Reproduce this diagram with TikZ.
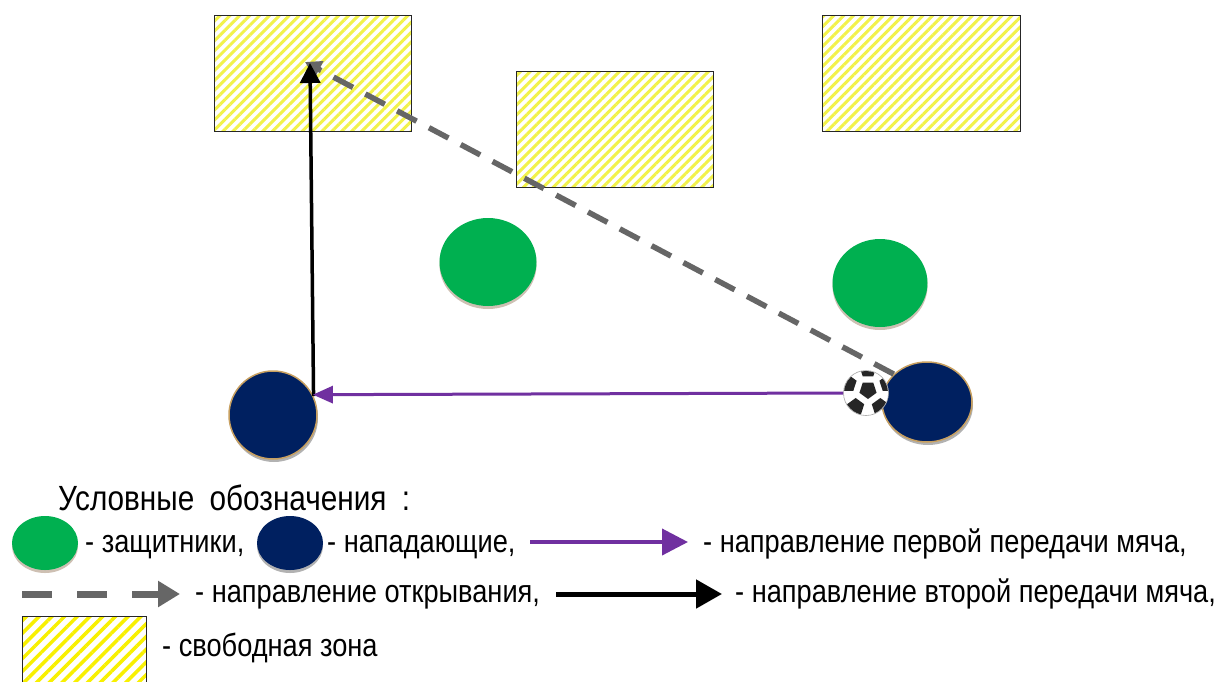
\documentclass[tikz,border=0pt]{standalone}
\usepackage{fontspec}
\setmainfont{Liberation Sans}[FakeStretch=0.85]
\usetikzlibrary{arrows.meta,patterns.meta,shadows,shapes.geometric}
\definecolor{defgreen}{HTML}{00B050}
\definecolor{attblue}{HTML}{002060}
\definecolor{passpurple}{HTML}{7030A0}
\definecolor{rungray}{HTML}{666666}
\definecolor{rimtan}{HTML}{C8A060}
\definecolor{zoneyellow}{HTML}{F2F24A}
\definecolor{legyellow}{HTML}{F8F000}
\tikzset{
  zone/.style={rectangle, inner sep=0pt, draw=black!85, line width=1pt,
    pattern={Lines[angle=45,distance=7pt,line width=3pt]}, pattern color=zoneyellow},
  defender/.style={ellipse, inner sep=0pt, fill=defgreen,
    drop shadow={shadow xshift=0pt, shadow yshift=-3pt, fill=brown!60!black, opacity=0.35}},
  attacker/.style={ellipse, inner sep=0pt, fill=attblue, draw=rimtan, line width=1.5pt,
    drop shadow={shadow xshift=1pt, shadow yshift=-3pt, fill=black, opacity=0.3}},
  passone/.style={draw=passpurple, line width=3pt, -{Triangle[length=20pt,width=17pt]}},
  passtwo/.style={draw=black, line width=3.5pt, -{Triangle[length=20pt,width=20pt]}},
  runline/.style={draw=rungray, line width=5.5pt, dash pattern=on 22pt off 14pt, -{Triangle[length=16pt,width=18pt]}},
  legtext/.style={anchor=base west, inner sep=0pt, font=\fontsize{32}{36}\selectfont},
}
\begin{document}
\begin{tikzpicture}[x=1pt,y=-1pt]
\useasboundingbox (0,0) rectangle (1221,681);
\fill[white] (0,0) rectangle (1221,681);
% free zones
\node[zone, minimum width=197pt, minimum height=116pt] (z1) at (312.5,73) {};
\node[zone, minimum width=197pt, minimum height=116pt] (z2) at (614.5,129) {};
\node[zone, minimum width=198pt, minimum height=116pt] (z3) at (921,73) {};
\coordinate (z1p) at (310,63);
\coordinate (z1q) at (305,62);
% defenders
\node[defender, minimum width=97pt, minimum height=88pt] (d1) at (488,262) {};
\node[defender, minimum width=95pt, minimum height=88pt] (d2) at (880,283) {};
% attackers
\node[attacker, minimum width=88pt, minimum height=88pt] (a1) at (273,415) {};
\node[attacker, minimum width=90pt, minimum height=80pt] (a2) at (927,402) {};
% runs and passes
\draw[runline] (a2.140) -- (z1q);
\draw[passtwo] (a1.25) -- (z1p);
% ball
\node[circle, minimum size=45pt, inner sep=0pt, fill=white, draw=black!35, line width=0.6pt] (ball) at (866,393) {};
\begin{scope}
\clip (866,393) circle (22pt);
\fill[black!85] (868,390) +(90:9) -- +(162:9) -- +(234:9) -- +(306:9) -- +(18:9) -- cycle;
\foreach \a in {18,90,162,234,306} {
  \fill[black!85] (868,390) ++(\a+180:21) +(\a+180:9) -- +(\a+252:9) -- +(\a+324:9) -- +(\a+36:9) -- +(\a+108:9) -- cycle;
}
\end{scope}
\draw[passone] (ball.west) -- (a1.27);
% legend
\node[legtext, font=\fontsize{35}{40}\selectfont] (title) at (58,510) {Условные\hspace{7pt} обозначения\hspace{7pt} :};
\node[defender, minimum width=66pt, minimum height=54pt] (ld) at (45,543) {};
\node[legtext] (tld) at (85,552) {- защитники,};
\node[ellipse, inner sep=0pt, fill=attblue, minimum width=66pt, minimum height=54pt,
  drop shadow={shadow xshift=0pt, shadow yshift=-3pt, fill=black, opacity=0.3}] (la) at (290,543) {};
\node[legtext] (tla) at (327,552) {- нападающие,};
\coordinate (lp1) at (530,542);
\coordinate (lp2) at (688,542);
\draw[passone, line width=4pt, -{Triangle[length=26pt,width=26pt]}] (lp1) -- (lp2);
\node[legtext] (tlp) at (703,552) {- направление первой передачи мяча,};
\coordinate (lr1) at (22,594);
\coordinate (lr2) at (180,594);
\draw[runline, dash pattern=on 30pt off 25pt, line width=7pt, -{Triangle[length=22pt,width=25pt]}] (lr1) -- (lr2);
\node[legtext] (tlr) at (195,602) {- направление открывания,};
\coordinate (ls1) at (556,594);
\coordinate (ls2) at (722,594);
\draw[passtwo, line width=5pt, -{Triangle[length=26pt,width=28pt]}] (ls1) -- (ls2);
\node[legtext] (tls) at (735,602) {- направление второй передачи мяча,};
\node[zone, minimum width=124pt, minimum height=68pt, pattern={Lines[angle=45,distance=9pt,line width=3.5pt]}, pattern color=legyellow] (lz) at (84,650) {};
\node[legtext] (tlz) at (162,656) {- свободная зона};
\end{tikzpicture}
\end{document}
